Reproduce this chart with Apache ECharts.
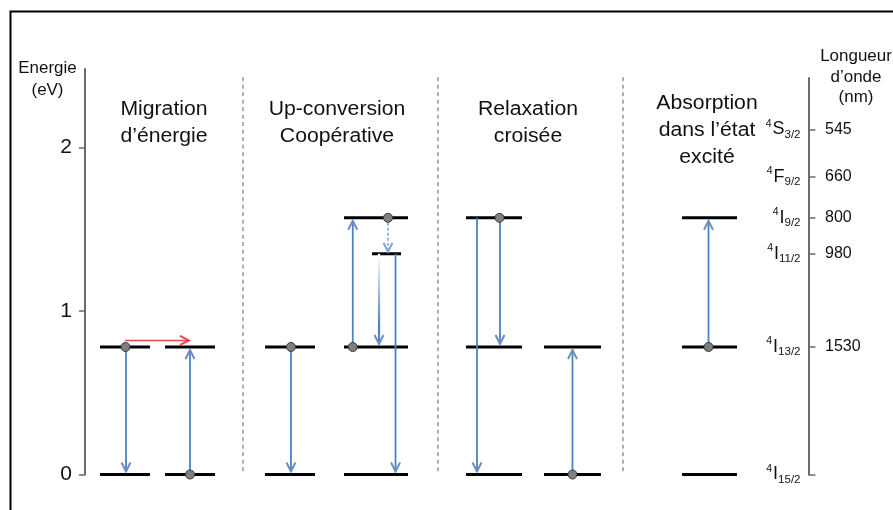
<!DOCTYPE html>
<html><head><meta charset="utf-8">
<script src="https://cdn.jsdelivr.net/npm/echarts@6/dist/echarts.min.js"></script>
<style>html,body{margin:0;padding:0;background:#fff}#c{width:893px;height:510px}</style>
</head><body><div id="c"></div>
<script>
// ---------- data ----------
const energyTicks = [0, 1, 2];                                   // eV
const stateTerms = ['I', 'I', 'I', 'I', 'F', 'S'];
const stateSubs = ['15/2', '13/2', '11/2', '9/2', '9/2', '3/2'];
const stateEnergies = [0, 0.78, 1.35, 1.57, 1.82, 2.11];          // eV (as drawn)
const wavelengths = ['', '1530', '980', '800', '660', '545'];     // nm
const panelTitles = [
  ['Migration', 'd\u2019énergie'],
  ['Up-conversion', 'Coopérative'],
  ['Relaxation', 'croisée'],
  ['Absorption', 'dans l\u2019état', 'excité']
];
// horizontal unit: 0..100 across the diagram between the two axes
// energy levels: [xStart, xEnd, energy]
const levelLines = [
  [2.07, 8.98, 0.78], [11.06, 17.97, 0.78], [2.07, 8.98, 0], [11.06, 17.97, 0],
  [24.88, 31.79, 0.78], [24.88, 31.79, 0],
  [35.80, 44.64, 1.57], [39.67, 43.68, 1.35], [35.80, 44.64, 0.78], [35.80, 44.64, 0],
  [52.66, 60.40, 1.57], [52.66, 60.40, 0.78], [52.66, 60.40, 0],
  [63.44, 71.32, 0.78], [63.44, 71.32, 0],
  [82.52, 90.12, 1.57], [82.52, 90.12, 0.78], [82.52, 90.12, 0]
];
// transitions: [xFrom, eFrom, xTo, eTo]
const blueArrows = [
  [5.67, 0.78, 5.67, 0], [14.51, 0, 14.51, 0.78],
  [28.47, 0.78, 28.47, 0], [37.01, 0.78, 37.01, 1.57], [42.92, 1.35, 42.92, 0],
  [54.18, 1.57, 54.18, 0], [57.36, 1.57, 57.36, 0.78], [67.38, 0, 67.38, 0.78],
  [86.18, 0.78, 86.18, 1.57]
];
const redArrows = [[5.53, 0.82, 14.37, 0.82]];
const dashedArrows = [[41.88, 1.57, 41.88, 1.35]];
const fadedArrows = [[40.64, 1.35, 40.64, 0.78]];
const electrons = [
  [5.60, 0.78], [14.51, 0], [28.47, 0.78], [37.01, 0.78], [41.88, 1.57],
  [57.29, 1.57], [67.38, 0], [86.18, 0.78]
];
const separators = [[21.84, 2.43, 0], [48.79, 2.43, 0], [74.36, 2.43, 0]];

// ---------- rendering ----------
const FONT = '"Liberation Sans", Arial, sans-serif';
const BLUE = '#4f81bd';
const chart = echarts.init(document.getElementById('c'), null, {renderer: 'canvas'});

function nearestState(v) {
  let best = 0;
  stateEnergies.forEach((e, i) => { if (Math.abs(e - v) < Math.abs(stateEnergies[best] - v)) best = i; });
  return best;
}

function arrowRenderer(opt) {
  return function (params, api) {
    const p0 = api.coord([api.value(0), api.value(1)]);
    const p1 = api.coord([api.value(2), api.value(3)]);
    const dx = p1[0] - p0[0], dy = p1[1] - p0[1];
    const len = Math.hypot(dx, dy) || 1;
    const ux = dx / len, uy = dy / len, nx = -uy, ny = ux;
    const gap = opt.gap;
    const tip = [p1[0] - ux * gap, p1[1] - uy * gap];
    const L = 9, W = 4.5;
    let stroke = opt.color;
    if (opt.fade) {
      stroke = {type: 'linear', x: p0[0], y: p0[1], x2: tip[0], y2: tip[1], global: true,
        colorStops: [{offset: 0, color: '#ffffff'}, {offset: 0.8, color: BLUE}, {offset: 1, color: BLUE}]};
    }
    return {
      type: 'group',
      children: [
        {type: 'line', shape: {x1: p0[0], y1: p0[1], x2: tip[0] - ux, y2: tip[1] - uy},
          style: {stroke: stroke, lineWidth: opt.width, lineDash: opt.dash || null}},
        {type: 'polyline', shape: {points: [
          [tip[0] - ux * L + nx * W, tip[1] - uy * L + ny * W],
          [tip[0], tip[1]],
          [tip[0] - ux * L - nx * W, tip[1] - uy * L - ny * W]]},
          style: {stroke: opt.head, lineWidth: 2, fill: null}}
      ]
    };
  };
}

const option = {
  animation: false,
  backgroundColor: '#ffffff',
  grid: [
    {left: 85, right: 84.5, top: 69, bottom: 35.5},
    {left: 807.5, width: 1, top: 78, bottom: 35.5}
  ],
  xAxis: [
    {gridIndex: 0, type: 'value', min: 0, max: 100, show: false},
    {gridIndex: 1, type: 'value', min: 0, max: 1, show: false}
  ],
  yAxis: [
    {gridIndex: 0, type: 'value', min: 0, max: 2.48, position: 'left',
      axisLine: {show: true, onZero: false, lineStyle: {color: '#6b6b6b', width: 2}},
      axisTick: {show: true, length: 6, customValues: energyTicks, lineStyle: {color: '#6b6b6b', width: 1.5}},
      axisLabel: {customValues: energyTicks, margin: 13, fontSize: 21, color: '#111', fontFamily: FONT},
      splitLine: {show: false}},
    {gridIndex: 1, type: 'value', min: 0, max: 2.425, position: 'right',
      axisLine: {show: true, onZero: false, lineStyle: {color: '#6b6b6b', width: 2}},
      axisTick: {show: true, length: 7, customValues: stateEnergies, lineStyle: {color: '#6b6b6b', width: 1.5}},
      axisLabel: {customValues: stateEnergies.slice(1), margin: 16.5, fontSize: 16, color: '#111', fontFamily: FONT,
        formatter: function (v) { return wavelengths[nearestState(v)]; }},
      splitLine: {show: false}},
    {gridIndex: 1, type: 'value', min: 0, max: 2.425, position: 'left',
      axisLine: {show: false, onZero: false}, axisTick: {show: false},
      axisLabel: {customValues: stateEnergies, margin: 7, color: '#111', fontFamily: FONT,
        formatter: function (v) {
          const i = nearestState(v);
          return '{sup|4}{m|' + stateTerms[i] + '}{sub|' + stateSubs[i] + '}';
        },
        rich: {
          sup: {fontSize: 10.5, fontFamily: FONT, color: '#111', verticalAlign: 'top', lineHeight: 11, padding: [0, 1, 0, 0]},
          m: {fontSize: 18, fontFamily: FONT, color: '#111', lineHeight: 22},
          sub: {fontSize: 11.5, fontFamily: FONT, color: '#111', verticalAlign: 'bottom', lineHeight: 11}
        }},
      splitLine: {show: false}}
  ],
  graphic: [
    {type: 'rect', shape: {x: 10.5, y: 11.5, width: 900, height: 520}, style: {fill: null, stroke: '#000', lineWidth: 2}, silent: true}
  ],
  series: [
    {type: 'custom', xAxisIndex: 0, yAxisIndex: 0, data: separators, z: 1,
      renderItem: function (params, api) {
        const a = api.coord([api.value(0), api.value(1)]);
        const b = api.coord([api.value(0), api.value(2)]);
        return {type: 'line', shape: {x1: a[0], y1: a[1], x2: b[0], y2: b[1]},
          style: {stroke: '#5e5e5e', lineWidth: 1, lineDash: [4, 3.5]}};
      }},
    {type: 'custom', xAxisIndex: 0, yAxisIndex: 0, data: levelLines, z: 2,
      renderItem: function (params, api) {
        const a = api.coord([api.value(0), api.value(2)]);
        const b = api.coord([api.value(1), api.value(2)]);
        return {type: 'line', shape: {x1: a[0], y1: a[1], x2: b[0], y2: b[1]},
          style: {stroke: '#000', lineWidth: 3}};
      }},
    {type: 'custom', xAxisIndex: 0, yAxisIndex: 0, data: blueArrows, z: 3,
      renderItem: arrowRenderer({color: BLUE, head: '#6d8fc0', width: 1.8, gap: 3})},
    {type: 'custom', xAxisIndex: 0, yAxisIndex: 0, data: fadedArrows, z: 3,
      renderItem: arrowRenderer({fade: true, head: '#6d8fc0', width: 2.2, gap: 3})},
    {type: 'custom', xAxisIndex: 0, yAxisIndex: 0, data: dashedArrows, z: 3,
      renderItem: arrowRenderer({color: '#7ea2d3', head: '#86a8d6', width: 1.5, gap: 2, dash: [3, 2]})},
    {type: 'custom', xAxisIndex: 0, yAxisIndex: 0, data: redArrows, z: 3,
      renderItem: arrowRenderer({color: '#e8474a', head: '#e8474a', width: 1.5, gap: 0})},
    {type: 'custom', xAxisIndex: 0, yAxisIndex: 0, data: electrons, z: 4,
      renderItem: function (params, api) {
        const p = api.coord([api.value(0), api.value(1)]);
        return {type: 'circle', shape: {cx: p[0], cy: p[1], r: 4.5},
          style: {fill: '#7f7f7f', stroke: '#3a3a3a', lineWidth: 1}};
      }}
  ]
};

// text blocks (titles and axis names)
function addText(lines, cx, y0, step, size) {
  lines.forEach((t, i) => {
    option.graphic.push({type: 'text', x: cx, y: y0 + i * step, scaleX: 1.06, silent: true,
      style: {text: t, font: size + 'px ' + FONT, fill: '#111', align: 'center', verticalAlign: 'middle'}});
  });
}
const titleCenters = [164, 337, 528, 707];
const titleTops = [109, 109, 109, 103];
panelTitles.forEach((lines, i) => addText(lines, titleCenters[i], titleTops[i], 27, 20));
addText(['Energie', '(eV)'], 47.5, 69, 22, 16);
addText(['Longueur', 'd\u2019onde', '(nm)'], 856, 57, 20.5, 16);

chart.setOption(option);
</script>
</body></html>
